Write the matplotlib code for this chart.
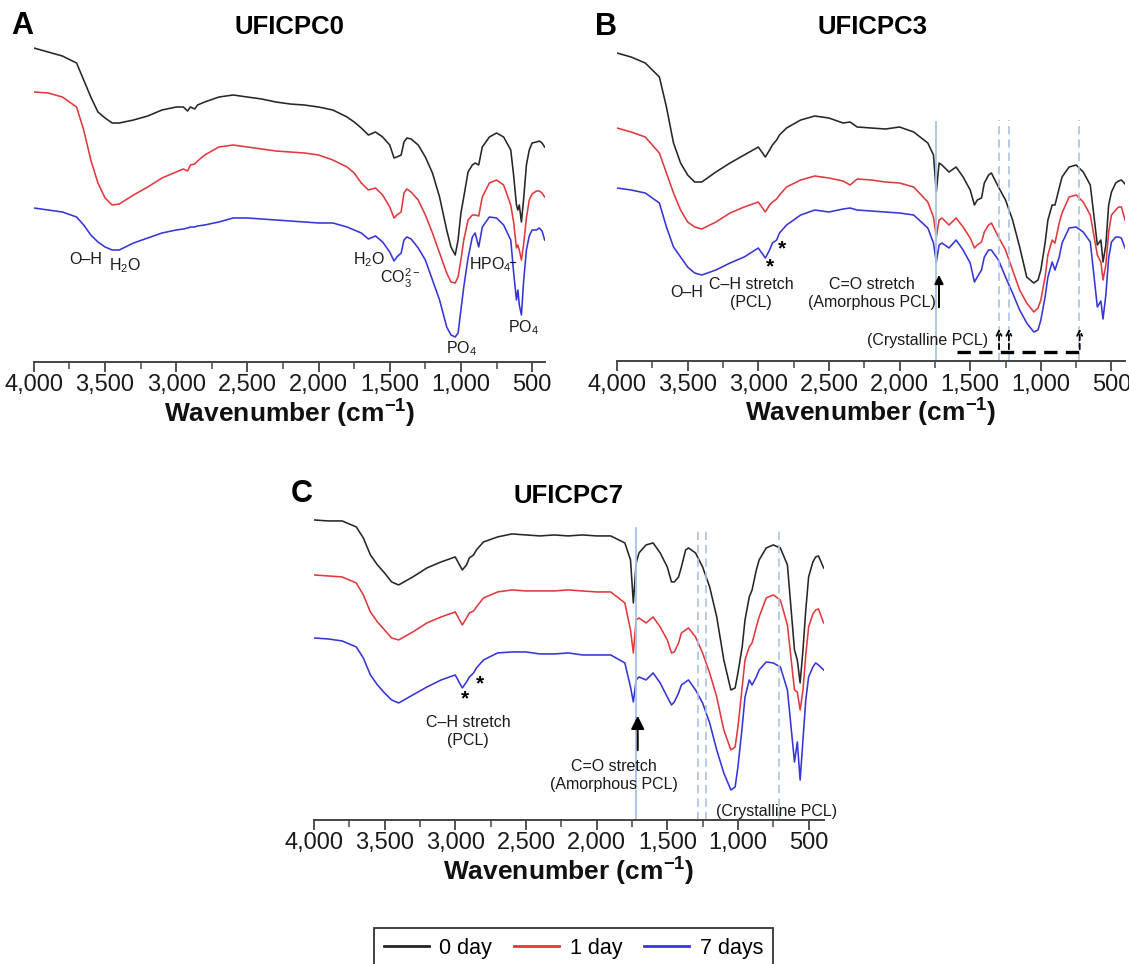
import matplotlib as mpl
mpl.use('Agg')
import matplotlib.pyplot as plt
from matplotlib.ticker import MultipleLocator, FuncFormatter

plt.rcParams['font.family'] = ['Liberation Sans', 'DejaVu Sans']
plt.rcParams['mathtext.fontset'] = 'custom'
plt.rcParams['mathtext.rm'] = 'Liberation Sans'
plt.rcParams['mathtext.it'] = 'Liberation Sans:italic'
plt.rcParams['mathtext.bf'] = 'Liberation Sans:bold'

# ---- data: FTIR transmittance (a.u., offset traces) ----
labels = ['0 day', '1 day', '7 days']
colors = ['#262626', '#e0393e', '#3535d8']

wn_A = [4000, 3900, 3800, 3700, 3650, 3600, 3550, 3500, 3450, 3400,
        3300, 3200, 3100, 3000, 2950, 2920, 2900, 2870, 2850, 2800,
        2700, 2600, 2500, 2400, 2300, 2200, 2100, 2000, 1900, 1800,
        1750, 1700, 1650, 1600, 1550, 1500, 1470, 1450, 1420, 1400,
        1380, 1350, 1300, 1250, 1200, 1150, 1100, 1070, 1040, 1020,
        1000, 980, 950, 920, 900, 875, 850, 800, 750, 700,
        650, 630, 610, 600, 590, 575, 560, 540, 520, 500,
        470, 450, 430, 412]
A_day0 = [314, 310, 306, 299, 282, 265, 250, 244, 239, 239,
          242, 246, 252, 255, 255, 251, 255, 253, 257, 260,
          265, 267, 265, 263, 260, 258, 257, 255, 252, 245,
          240, 234, 227, 230, 225, 217, 204, 205, 207, 220,
          224, 223, 217, 205, 189, 165, 132, 115, 107, 122,
          149, 165, 190, 197, 199, 197, 215, 225, 229, 225,
          212, 187, 157, 152, 157, 140, 162, 197, 212, 219,
          220, 221, 219, 215]
A_day1 = [270, 269, 265, 255, 232, 202, 179, 164, 157, 158,
          167, 175, 184, 190, 193, 191, 197, 198, 201, 207,
          215, 217, 215, 213, 211, 210, 209, 207, 202, 195,
          189, 179, 172, 174, 167, 155, 144, 147, 150, 169,
          173, 170, 162, 147, 129, 109, 89, 80, 79, 85,
          102, 122, 142, 147, 147, 146, 165, 179, 182, 177,
          157, 140, 114, 117, 112, 102, 117, 144, 162, 168,
          171, 171, 169, 165]
A_day7 = [154, 152, 150, 145, 137, 127, 120, 115, 112, 112,
          119, 124, 129, 132, 133, 134, 135, 135, 136, 137,
          140, 144, 144, 143, 142, 141, 140, 139, 139, 135,
          132, 129, 123, 126, 120, 110, 101, 105, 109, 122,
          125, 123, 114, 102, 82, 62, 35, 27, 25, 29,
          52, 75, 104, 125, 129, 115, 135, 145, 144, 137,
          122, 90, 62, 72, 57, 47, 80, 112, 126, 132,
          132, 134, 131, 122]

wn_B = [4000, 3900, 3800, 3700, 3650, 3600, 3550, 3500, 3450, 3400,
        3300, 3200, 3100, 3000, 2950, 2920, 2900, 2870, 2850, 2800,
        2700, 2600, 2500, 2400, 2350, 2300, 2200, 2100, 2000, 1900,
        1800, 1760, 1740, 1720, 1700, 1650, 1600, 1550, 1500, 1470,
        1450, 1420, 1400, 1370, 1350, 1300, 1250, 1200, 1150, 1100,
        1050, 1020, 1000, 970, 950, 920, 900, 870, 850, 800,
        750, 700, 650, 600, 575, 560, 540, 520, 500, 470,
        450, 430, 404]
B_day0 = [308, 304, 298, 284, 254, 218, 198, 186, 179, 179,
          189, 198, 206, 214, 204, 211, 216, 221, 226, 233,
          241, 245, 243, 238, 239, 234, 233, 232, 234, 229,
          218, 206, 169, 198, 196, 189, 194, 184, 171, 156,
          161, 163, 178, 186, 188, 174, 161, 141, 114, 84,
          78, 81, 91, 118, 141, 156, 156, 173, 184, 194,
          196, 189, 176, 116, 121, 99, 116, 156, 169, 178,
          180, 181, 177]
B_day1 = [233, 229, 224, 208, 188, 168, 151, 139, 134, 132,
          139, 148, 154, 159, 149, 156, 159, 162, 166, 174,
          181, 185, 183, 180, 176, 182, 181, 179, 178, 174,
          159, 144, 124, 141, 143, 136, 143, 134, 123, 113,
          116, 119, 129, 136, 138, 124, 111, 91, 71, 58,
          49, 53, 61, 84, 106, 121, 118, 138, 148, 164,
          166, 159, 146, 106, 99, 81, 96, 129, 146, 151,
          154, 154, 141]
B_day7 = [173, 171, 168, 158, 134, 114, 104, 94, 88, 86,
          91, 98, 104, 113, 103, 111, 118, 121, 128, 136,
          146, 151, 149, 152, 153, 151, 150, 149, 148, 146,
          133, 118, 99, 116, 118, 113, 121, 111, 98, 79,
          84, 91, 104, 111, 111, 101, 84, 68, 51, 38,
          29, 31, 41, 64, 84, 99, 91, 104, 118, 133,
          134, 129, 119, 54, 60, 42, 66, 103, 119, 124,
          124, 123, 113]

wn_C = [4000, 3900, 3800, 3700, 3650, 3600, 3550, 3500, 3450, 3400,
        3300, 3200, 3100, 3000, 2950, 2920, 2900, 2870, 2850, 2800,
        2700, 2600, 2500, 2400, 2300, 2200, 2100, 2000, 1900, 1800,
        1760, 1740, 1720, 1700, 1650, 1600, 1550, 1500, 1470, 1450,
        1420, 1400, 1370, 1350, 1300, 1250, 1200, 1150, 1100, 1050,
        1020, 1000, 970, 950, 920, 900, 870, 850, 800, 750,
        700, 650, 600, 580, 560, 540, 520, 500, 470, 450,
        430, 394]
C_day0 = [300, 299, 299, 293, 282, 265, 255, 247, 238, 235,
          243, 252, 258, 263, 250, 255, 262, 265, 270, 278,
          283, 286, 285, 284, 285, 284, 285, 284, 284, 277,
          260, 217, 257, 267, 275, 277, 267, 253, 238, 238,
          243, 253, 270, 272, 267, 253, 233, 203, 160, 130,
          132, 147, 173, 200, 223, 230, 250, 260, 272, 275,
          272, 255, 170, 160, 137, 170, 210, 243, 258, 263,
          264, 252]
C_day1 = [245, 244, 243, 237, 225, 208, 198, 190, 182, 180,
          188, 197, 203, 208, 195, 202, 207, 209, 213, 222,
          228, 230, 229, 229, 229, 230, 229, 228, 228, 217,
          190, 167, 200, 202, 197, 203, 193, 180, 167, 168,
          177, 187, 190, 192, 183, 167, 147, 123, 90, 70,
          73, 93, 133, 160, 173, 177, 193, 203, 222, 225,
          220, 195, 130, 128, 110, 130, 165, 193, 206, 210,
          211, 197]
C_day7 = [182, 181, 179, 173, 162, 145, 135, 127, 120, 117,
          125, 133, 140, 145, 132, 138, 143, 147, 152, 160,
          167, 168, 168, 166, 166, 167, 165, 165, 165, 157,
          133, 118, 140, 143, 140, 147, 137, 123, 115, 118,
          127, 135, 138, 140, 130, 117, 97, 70, 47, 30,
          33, 53, 93, 123, 140, 135, 143, 150, 158, 157,
          153, 130, 58, 78, 40, 80, 120, 143, 153, 157,
          155, 150]

# PCL marker bands (cm-1)
amorph_B, cryst_B = 1740, [1296, 1226, 732]
amorph_C, cryst_C = 1721, [1285, 1228, 711]

fig = plt.figure(figsize=(11.29, 9.64), dpi=100)

def make_axes(rect, wn, series, xmin, ytop):
    ax = fig.add_axes(rect)
    lines = []
    for y, c, lab in zip(series, colors, labels):
        ln, = ax.plot(wn, y, color=c, lw=1.15, label=lab)
        lines.append(ln)
    ax.set_xlim(4000, xmin)
    ax.set_ylim(0, ytop)
    for s in ['left', 'right', 'top']:
        ax.spines[s].set_visible(False)
    ax.spines['bottom'].set_color('#444444')
    ax.spines['bottom'].set_linewidth(1.4)
    ax.set_yticks([])
    ax.xaxis.set_major_locator(MultipleLocator(500))
    ax.xaxis.set_minor_locator(MultipleLocator(250))
    ax.xaxis.set_major_formatter(FuncFormatter(lambda v, p: '{:,}'.format(int(v))))
    ax.tick_params(axis='x', which='major', length=7, width=1.3, color='#444444',
                   labelsize=17, pad=2, labelcolor='#1a1a1a')
    ax.tick_params(axis='x', which='minor', length=5, width=1.1, color='#444444')
    ax.set_xlabel(r'Wavenumber (cm$^{\mathbf{-1}}$)', fontsize=19, fontweight='bold',
                  labelpad=1, color='#111111')
    return ax, lines

axA, _ = make_axes([0.0300, 0.6245, 0.4524, 0.3340], wn_A, [A_day0, A_day1, A_day7], 412, 322)
axB, _ = make_axes([0.5465, 0.6255, 0.4500, 0.3330], wn_B, [B_day0, B_day1, B_day7], 404, 321)
axC, linesC = make_axes([0.2780, 0.1494, 0.4515, 0.3320], wn_C, [C_day0, C_day1, C_day7], 394, 320)

# titles and panel letters
for x, y, t in [(0.2560, 0.9715, 'UFICPC0'), (0.7724, 0.9715, 'UFICPC3'), (0.5036, 0.4855, 'UFICPC7')]:
    fig.text(x, y, t, ha='center', va='center', fontsize=18.5, fontweight='bold')
for x, y, t in [(0.0195, 0.9730, 'A'), (0.5368, 0.9715, 'B'), (0.2675, 0.4875, 'C')]:
    fig.text(x, y, t, ha='center', va='center', fontsize=22, fontweight='bold')

tkw = dict(fontsize=11.5, color='#1a1a1a', ha='center', va='center', clip_on=False)

# panel A labels
axA.text(3634, 102, 'O\u2013H', **tkw)
axA.text(3360, 96, r'H$_{\mathregular{2}}$O', **tkw)
axA.text(1646, 102, r'H$_{\mathregular{2}}$O', **tkw)
axA.text(1428, 84, r'CO$_{\mathregular{3}}^{\mathregular{2-}}$', **tkw)
axA.text(796, 97, r'HPO$_{\mathregular{4}}$', **tkw)
axA.plot([655, 622], [100, 100], color='#1a1a1a', lw=0.9)
axA.text(993, 13, r'PO$_{\mathregular{4}}$', **tkw)
axA.text(557, 34, r'PO$_{\mathregular{4}}$', **tkw)

# panel B labels
vcol = '#a7c3e2'
axB.plot([amorph_B, amorph_B], [0, 239], color=vcol, lw=1.3)
for w in cryst_B:
    axB.plot([w, w], [0, 241], color=vcol, lw=1.2, ls=(0, (5, 3)))
axB.text(3505, 69, 'O\u2013H', **tkw)
axB.text(3052, 68, 'C\u2013H stretch\n(PCL)', linespacing=1.25, **tkw)
axB.text(2917, 94, '*', fontsize=15, fontweight='bold', ha='center', va='center')
axB.text(2830, 112, '*', fontsize=15, fontweight='bold', ha='center', va='center')
axB.text(2195, 68, 'C=O stretch\n(Amorphous PCL)', linespacing=1.25, **tkw)
axB.annotate('', xy=(1721, 89), xytext=(1721, 51),
             arrowprops=dict(arrowstyle='-|>', color='k', lw=1.4, mutation_scale=13))
axB.text(1799, 21, '(Crystalline PCL)', **tkw)
axB.plot([1594, 725], [9, 9], color='k', lw=2.4, ls=(0, (4, 2.5)))
for w in [cryst_B[0], cryst_B[1], 725]:
    axB.annotate('', xy=(w, 35), xytext=(w, 9),
                 arrowprops=dict(arrowstyle='->', color='k', lw=1.3, ls=(0, (3, 2)),
                                 mutation_scale=9))

# panel C labels
axC.plot([amorph_C, amorph_C], [0, 292], color=vcol, lw=1.3)
for w in cryst_C:
    axC.plot([w, w], [0, 290], color=vcol, lw=1.2, ls=(0, (5, 3)))
axC.text(2931, 121, '*', fontsize=15, fontweight='bold', ha='center', va='center')
axC.text(2825, 136, '*', fontsize=15, fontweight='bold', ha='center', va='center')
axC.text(2910, 88, 'C\u2013H stretch\n(PCL)', linespacing=1.25, **tkw)
axC.annotate('', xy=(1709, 107), xytext=(1709, 67),
             arrowprops=dict(arrowstyle='-|>', color='k', lw=1.4, mutation_scale=20))
axC.text(1880, 44, 'C=O stretch\n(Amorphous PCL)', linespacing=1.25, **tkw)
axC.text(724, 8, '(Crystalline PCL)', **tkw)

leg = fig.legend(linesC, labels, loc='upper center', bbox_to_anchor=(0.5078, 1 - 928 / 964),
                 ncol=3, fontsize=15.5, frameon=True, fancybox=False, edgecolor='black',
                 handlelength=2.1, handletextpad=0.5, columnspacing=1.0, borderpad=0.45,
                 borderaxespad=0)
leg.get_frame().set_linewidth(1.3)
for h in leg.legend_handles:
    h.set_linewidth(2.0)

fig.savefig('out.png', dpi=100)
